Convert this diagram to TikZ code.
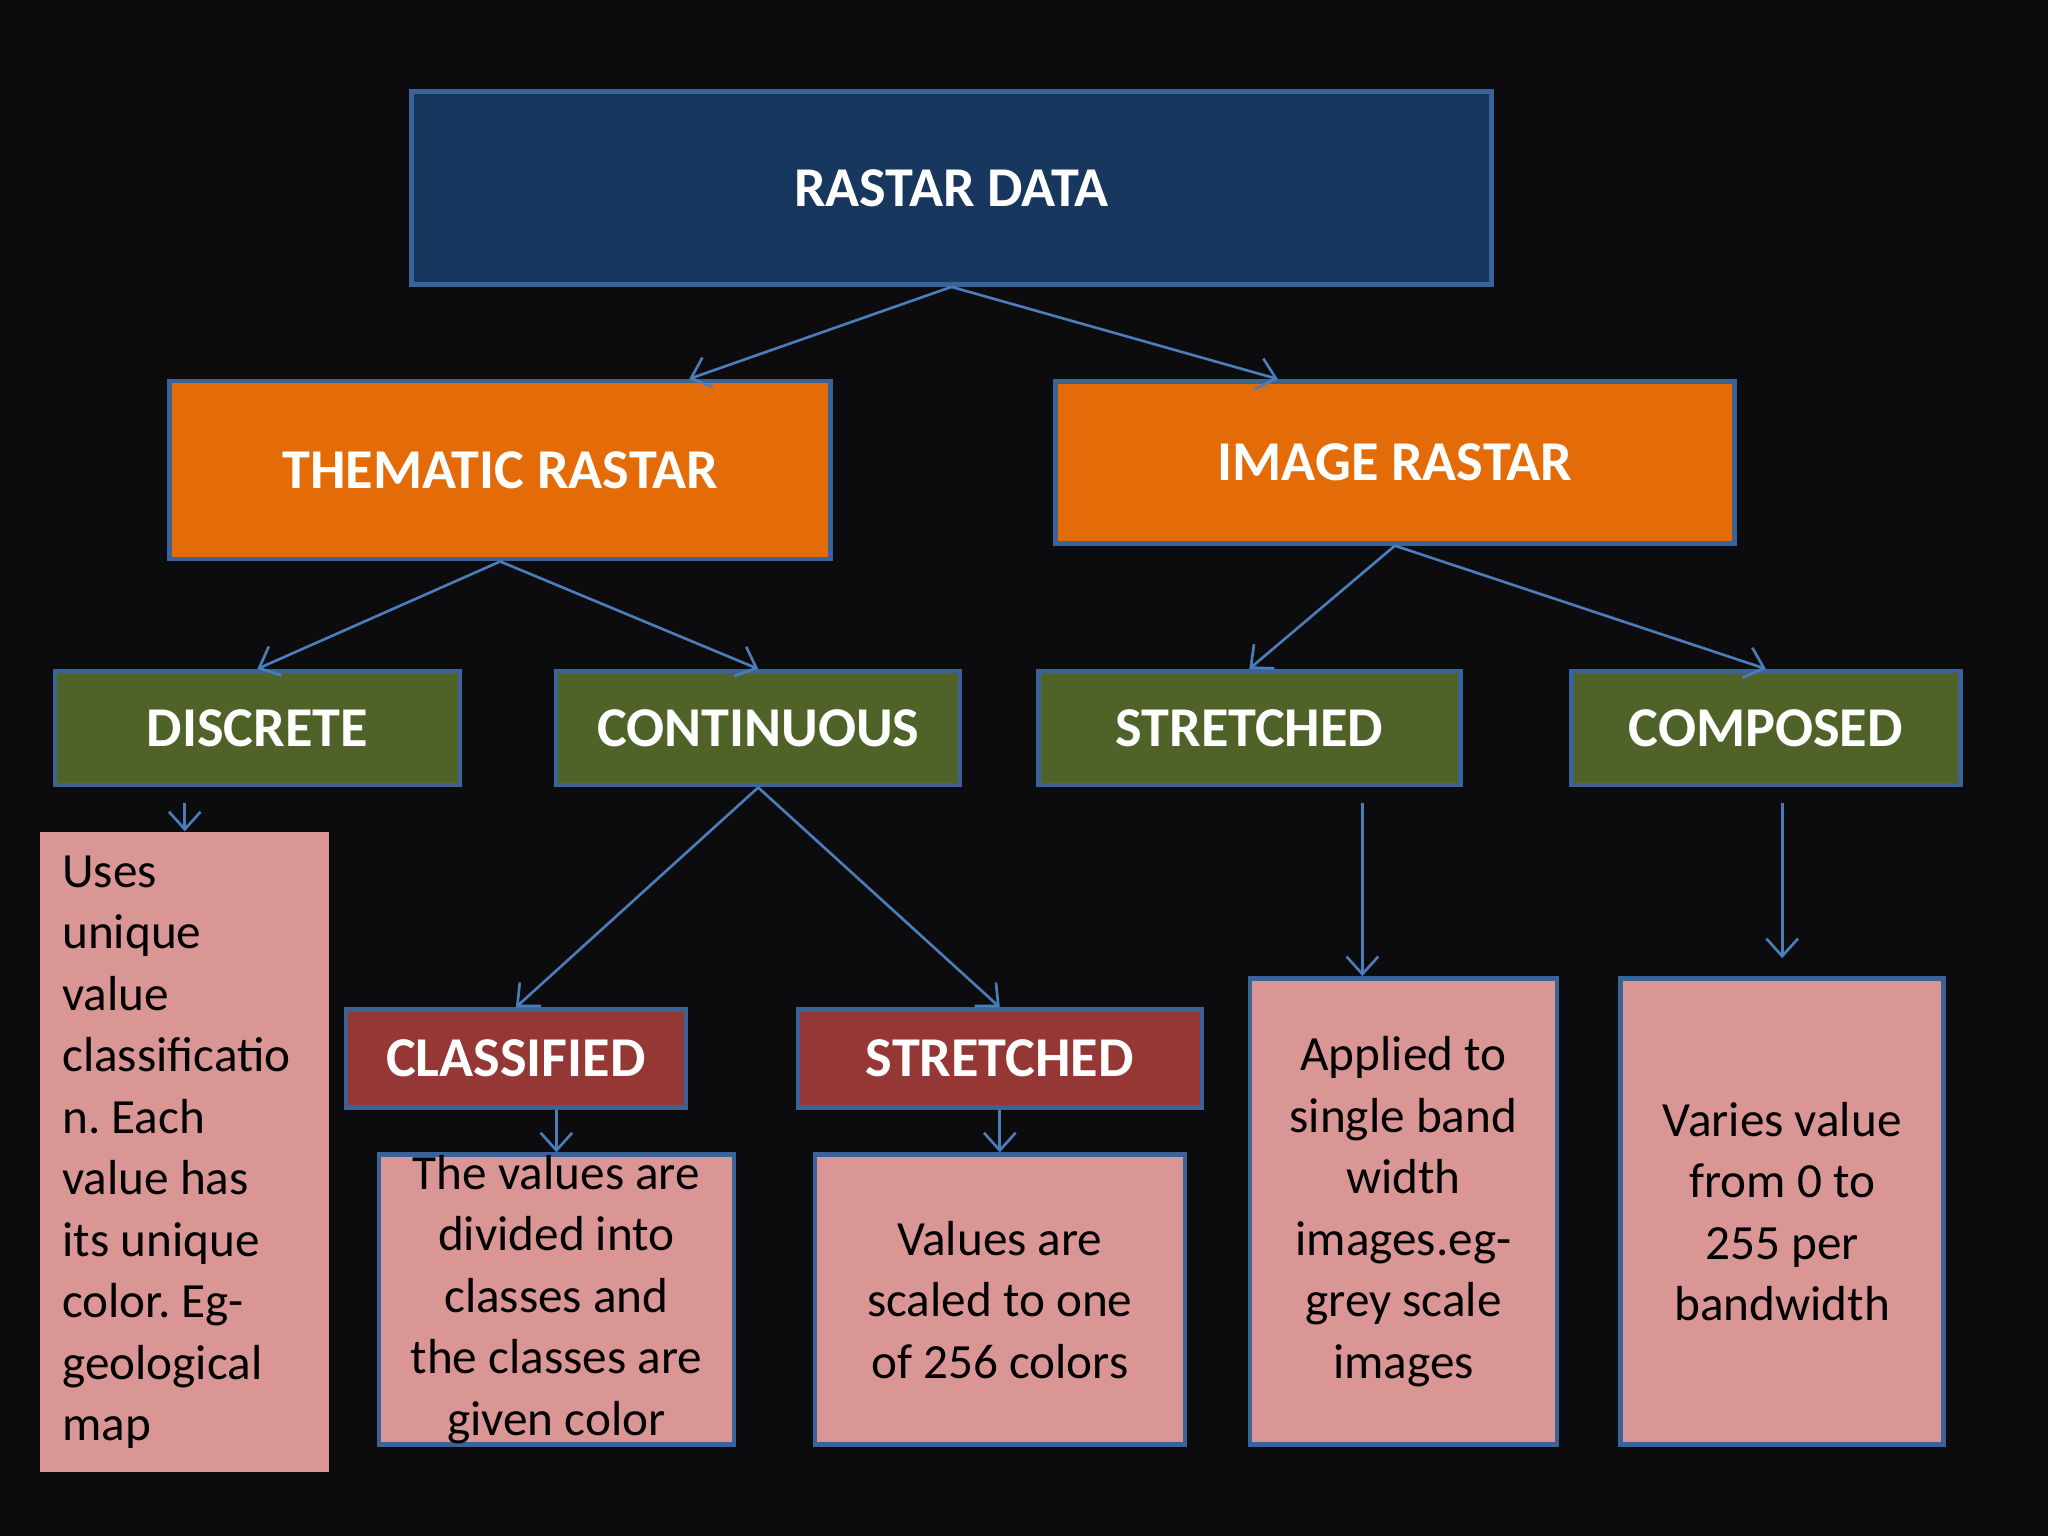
\documentclass[tikz,border=0pt]{standalone}
\usepackage{fontspec}
\setmainfont{Carlito}
\usetikzlibrary{arrows.meta,calc}
\definecolor{bgdark}{HTML}{0C0C0E}
\definecolor{edgeblue}{HTML}{3B6398}
\definecolor{linkblue}{HTML}{4A7EBB}
\definecolor{navyfill}{HTML}{17375E}
\definecolor{orangefill}{HTML}{E36C09}
\definecolor{greenfill}{HTML}{4F6228}
\definecolor{redfill}{HTML}{953735}
\definecolor{notepink}{HTML}{D99694}

\begin{document}
\begin{tikzpicture}[
  box/.style={draw=edgeblue, line width=1.3pt, text=white,
    font=\fontsize{16}{19}\selectfont\bfseries, inner sep=0pt},
  note/.style={fill=notepink, text=black,
    font=\fontsize{14}{17.5}\selectfont, inner sep=0pt, align=center},
  link/.style={draw=linkblue, line width=0.75pt,
    -{Straight Barb[length=5pt,width=9pt]}}
]
  \fill[bgdark] (0,0) rectangle (20.48,-15.36);

  \node[box, fill=navyfill, minimum width=10.80cm, minimum height=1.93cm]
    (raster) at (9.515,-1.881) {RASTAR DATA};

  \node[box, fill=orangefill, minimum width=6.61cm, minimum height=1.78cm]
    (thematic) at (5.002,-4.702) {THEMATIC RASTAR};
  \node[box, fill=orangefill, minimum width=6.79cm, minimum height=1.62cm]
    (image) at (13.949,-4.624) {IMAGE RASTAR};

  \node[box, fill=greenfill, minimum width=4.05cm, minimum height=1.14cm]
    (discrete) at (2.573,-7.282) {DISCRETE};
  \node[box, fill=greenfill, minimum width=4.04cm, minimum height=1.14cm]
    (continuous) at (7.582,-7.282) {CONTINUOUS};
  \node[box, fill=greenfill, minimum width=4.22cm, minimum height=1.14cm]
    (stretchedimg) at (12.493,-7.282) {STRETCHED};
  \node[box, fill=greenfill, minimum width=3.89cm, minimum height=1.14cm]
    (composed) at (17.659,-7.282) {COMPOSED};

  \node[box, fill=redfill, minimum width=3.40cm, minimum height=0.98cm]
    (classified) at (5.159,-10.586) {CLASSIFIED};
  \node[box, fill=redfill, minimum width=4.04cm, minimum height=0.98cm]
    (stretchedcls) at (9.998,-10.586) {STRETCHED};

  \node[note, align=flush left, text width=2.45cm, inner xsep=0.22cm,
    minimum width=2.89cm, minimum height=6.40cm]
    (discretenote) at (1.848,-11.520)
    {Uses\\ unique\\ value\\ classificatio\\ n.\ Each\\ value has\\ its unique\\
     color.\ Eg-\\ geological\\ map};
  \node[note, draw=edgeblue, line width=1.3pt,
    minimum width=3.55cm, minimum height=2.90cm]
    (classnote) at (5.564,-12.996)
    {The values are\\ divided into\\ classes and\\ the classes are\\ given color};
  \node[note, draw=edgeblue, line width=1.3pt,
    minimum width=3.70cm, minimum height=2.90cm]
    (stretchnote) at (9.998,-12.996)
    {Values are\\ scaled to one\\ of 256 colors};
  \node[note, draw=edgeblue, line width=1.3pt,
    minimum width=3.07cm, minimum height=4.66cm]
    (imagenote) at (14.034,-12.114)
    {Applied to\\ single band\\ width\\ images.eg-\\ grey scale\\ images};
  \node[note, draw=edgeblue, line width=1.3pt,
    minimum width=3.23cm, minimum height=4.66cm]
    (composednote) at (17.822,-12.114)
    {Varies value\\ from 0 to\\ 255 per\\ bandwidth};

  \coordinate (discretefrom) at ($(discretenote.north |- discrete.south)+(0,-0.16)$);
  \coordinate (stretchfrom) at ($([xshift=-0.41cm]imagenote.north |- stretchedimg.south)+(0,-0.16)$);
  \coordinate (composedfrom) at ($(composednote.north |- composed.south)+(0,-0.16)$);
  \coordinate (composedto) at ($(composednote.north)+(0,0.18)$);

  \draw[link] (raster.south) -- ([xshift=1.89cm]thematic.north);
  \draw[link] (raster.south) -- ([xshift=-1.17cm]image.north);
  \draw[link] (thematic.south) -- (discrete.north);
  \draw[link] (thematic.south) -- (continuous.north);
  \draw[link] (image.south) -- (stretchedimg.north);
  \draw[link] (image.south) -- (composed.north);
  \draw[link] (continuous.south) -- (classified.north);
  \draw[link] (continuous.south) -- (stretchedcls.north);
  \draw[link] (classnote.north |- classified.south) -- (classnote.north);
  \draw[link] (stretchedcls.south) -- (stretchnote.north);
  \draw[link] (discretefrom) -- (discretenote.north);
  \draw[link] (stretchfrom) -- (stretchfrom |- imagenote.north);
  \draw[link] (composedfrom) -- (composedto);
\end{tikzpicture}
\end{document}
